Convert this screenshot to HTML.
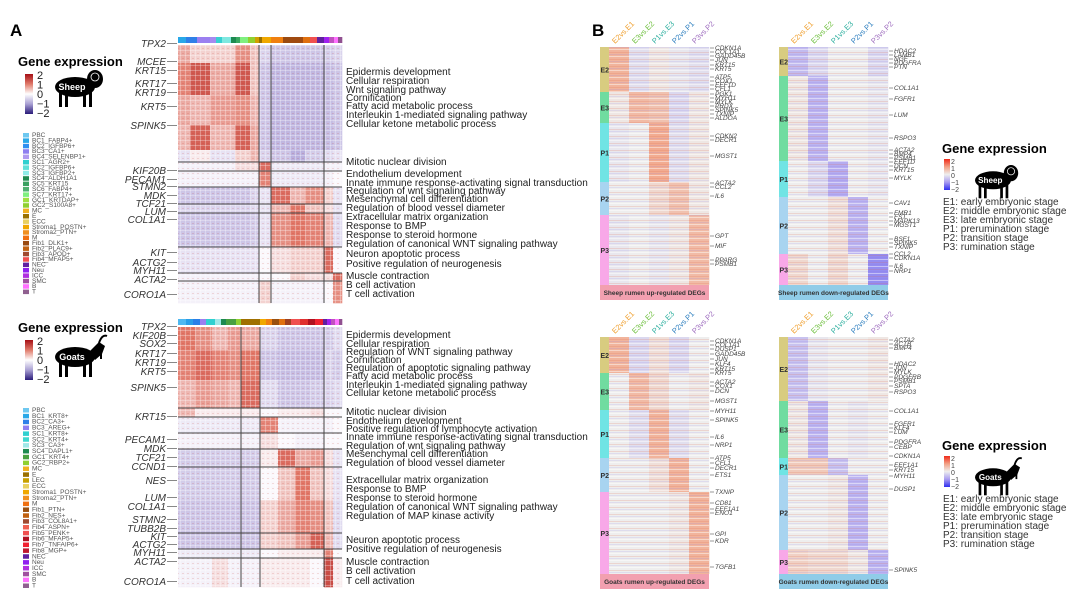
<!DOCTYPE html>
<html><head><meta charset="utf-8">
<style>
html,body{margin:0;padding:0;background:#fff;}
svg{display:block;font-family:"Liberation Sans",sans-serif;}
.gl{font-style:italic;font-size:10px;fill:#333;text-anchor:end;}
.term{font-size:10px;fill:#222;}
.leg{font-size:6.5px;fill:#555;}
.bg{font-style:italic;font-size:6.5px;fill:#444;}
</style></head>
<body>
<svg id="fig" width="1080" height="600" viewBox="0 0 1080 600">
<defs>
<linearGradient id="gA" x1="0" y1="0" x2="0" y2="1">
<stop offset="0" stop-color="#a50f15"/><stop offset="0.25" stop-color="#e07a6a"/><stop offset="0.5" stop-color="#ffffff"/><stop offset="0.75" stop-color="#a9a0d3"/><stop offset="1" stop-color="#2a1b7a"/></linearGradient>
<linearGradient id="gB" x1="0" y1="0" x2="0" y2="1">
<stop offset="0" stop-color="#f02a1a"/><stop offset="0.25" stop-color="#f2a084"/><stop offset="0.5" stop-color="#eeeeee"/><stop offset="0.75" stop-color="#a99cf0"/><stop offset="1" stop-color="#2f2ff0"/></linearGradient>
<pattern id="stripe" width="5" height="7" patternUnits="userSpaceOnUse"><rect y="0" width="5" height="1" fill="#fff" opacity="0.45"/><rect y="3" width="5" height="1" fill="#e06040" opacity="0.18"/><rect y="5" width="5" height="1" fill="#8070e0" opacity="0.15"/></pattern>
<pattern id="stripeA" width="5" height="5" patternUnits="userSpaceOnUse"><rect width="1" height="5" fill="#fff" opacity="0.3"/><rect width="5" height="1" fill="#fff" opacity="0.3"/><rect x="2" y="3" width="2" height="1" fill="#c03020" opacity="0.15"/></pattern>
</defs>
<text x="10" y="36" font-size="17" font-weight="bold">A</text>
<text x="592" y="36" font-size="17" font-weight="bold">B</text>
<g id="root"></g>
</svg>
<script>
// ===== Panel A data =====
const aColEdges = [178,190,210,235,250,259,271,290,305,324,333,342];
const aTopRowEdges = [45,63,95,125,150,162,171,187,204,213,247,273,281,303];
const aTopValues = [
 [0.6,0.3,0.3,0.8,0.4,-0.5,-0.7,-0.7,-0.7,-0.6,-0.5],
 [0.9,1.3,0.6,1.3,0.4,-0.7,-0.9,-0.9,-0.9,-0.8,-0.7],
 [0.6,0.5,0.7,0.8,0.5,-0.7,-0.9,-0.9,-0.9,-0.8,-0.7],
 [0.5,1.2,0.5,1.2,0.6,-0.7,-0.9,-0.9,-0.9,-0.8,-0.7],
 [-0.3,0.1,-0.3,0.3,0.5,-0.5,-0.7,-1.0,-0.6,-0.4,-0.3],
 [-0.1,-0.1,-0.1,0.2,0.2,1.1,-0.2,-0.2,-0.2,-0.1,-0.1],
 [-0.1,-0.1,-0.1,-0.1,-0.1,0.9,-0.2,-0.2,-0.2,-0.1,0.0],
 [-0.7,-0.7,-0.7,-0.7,-0.5,-0.3,1.1,0.5,0.8,0.3,-0.3],
 [-0.5,-0.5,-0.5,-0.5,-0.4,-0.3,0.5,1.0,0.4,0.2,-0.3],
 [-0.7,-0.7,-0.7,-0.7,-0.6,-0.3,0.8,1.0,0.9,0.5,-0.4],
 [-0.3,-0.3,-0.3,-0.3,-0.3,0.0,0.2,0.3,0.3,1.1,0.0],
 [-0.1,-0.1,-0.1,-0.1,-0.1,0.0,0.0,0.3,0.2,0.2,1.1],
 [-0.1,-0.1,-0.1,-0.1,-0.1,0.3,-0.1,-0.1,-0.1,0.0,0.8]];
const aTopLinesX = [259,271,324];
const aTopLinesY = [162,171,187,204,213,247,273,281];
const aBotColEdges = [178,195,212,228,241,260,278,295,310,324,333,342];
const aBotRowEdges = [327,350,380,408,417,433,449,467,500,533,549,558,587];
const aBotValues = [
 [1.0,0.8,0.5,0.7,0.6,-0.5,-0.7,-0.7,-0.7,-0.6,-0.4],
 [0.9,1.1,0.9,0.8,1.0,-0.7,-0.8,-0.8,-0.8,-0.5,-0.6],
 [0.5,0.7,0.6,0.5,1.1,-0.4,-0.7,-0.7,-0.6,-0.5,-0.4],
 [0.5,0.1,0.1,0.1,0.1,0.0,0.1,0.1,0.2,0.0,0.0],
 [-0.2,-0.2,-0.2,-0.2,-0.2,0.9,-0.1,-0.1,-0.1,-0.1,0.0],
 [-0.1,-0.1,-0.1,-0.1,-0.1,0.2,0.0,-0.1,-0.1,0.0,0.0],
 [-0.6,-0.6,-0.6,-0.6,-0.6,0.1,1.1,0.6,0.7,0.2,-0.3],
 [-0.6,-0.6,-0.6,-0.6,-0.6,0.0,0.4,1.0,0.4,0.2,-0.3],
 [-0.7,-0.7,-0.7,-0.7,-0.7,0.3,0.6,0.9,0.8,0.4,-0.4],
 [-0.7,-0.7,-0.7,-0.7,-0.7,0.3,0.4,0.7,1.2,0.5,-0.4],
 [-0.2,-0.2,-0.2,-0.2,-0.2,0.0,0.1,0.1,0.1,0.9,0.0],
 [-0.1,-0.1,0.2,-0.1,-0.1,0.1,0.1,0.1,0.0,1.4,0.1],
 [-0.1,-0.1,-0.1,-0.1,-0.1,0.3,-0.1,-0.1,-0.1,0.0,0.5]];
const aBotLinesX = [241,260,324];
const aBotLinesY = [408,417,433,449,467,533,549,558];
const aTopBarColors = ["#29a8e8","#2f80e8","#9b7ff0","#a58af0","#38d0d0","#7fe8e0","#1e8a50","#3aa860","#7ff07f","#90d030","#d0a000","#9a7000","#f0a800","#f08010","#9a4a10","#a04a10","#e07010","#f05050","#6020a0","#a020f0","#c050c0","#ff70ff","#905090"];
const aTopBarEdges = [178,186,197,210,216,222,231,236,240,248,255,259,262,271,283,290,303,310,317,324,329,334,338,342];
const aBotBarColors = ["#4fb8f0","#2a9ee8","#2a80e8","#9b7ff0","#30d0d0","#a0e8e8","#1e8a50","#48a040","#90d030","#a07000","#f0a800","#f08010","#9a5010","#e07010","#a04020","#f05050","#e03030","#b01020","#f02030","#6020a0","#a020f0","#c050c0","#ff70ff","#905090"];
const aBotBarEdges = [178,186,193,200,206,215,221,226,236,241,260,266,272,279,285,291,300,308,315,323,327,331,335,339,342];

const aTopGenes = ["TPX2","MCEE","KRT15","KRT17","KRT19","KRT5","SPINK5","KIF20B","PECAM1","STMN2","MDK","TCF21","LUM","COL1A1","KIT","ACTG2","MYH11","ACTA2","CORO1A"];
const aTopGeneY = [47,65,74,87,96,110,129,174,183,190,199,207,215,223,256,266,274,283,298];
const aBotGenes = ["TPX2","KIF20B","SOX2","KRT17","KRT19","KRT5","SPINK5","KRT15","PECAM1","MDK","TCF21","CCND1","NES","LUM","COL1A1","STMN2","TUBB2B","KIT","ACTG2","MYH11","ACTA2","CORO1A"];
const aBotGeneY = [330,339,347,357,366,375,391,420,443,452,461,470,484,501,510,523,532,540,548,556,565,585];
const aTopTerms = ["Epidermis development","Cellular respiration","Wnt signaling pathway","Cornification","Fatty acid metabolic process","Interleukin 1-mediated signaling pathway","Cellular ketone metabolic process","Mitotic nuclear division","Endothelium development","Innate immune response-activating signal transduction","Regulation of wnt signaling pathway","Mesenchymal cell differentiation","Regulation of blood vessel diameter","Extracellular matrix organization","Response to BMP","Response to steroid hormone","Regulation of canonical WNT signaling pathway","Neuron apoptotic process","Positive regulation of neurogenesis","Muscle contraction","B cell activation","T cell activation"];
const aTopTermY = [75,84,93,101,109,118,127,165,177,186,194,202,211,220,229,238,247,257,267,279,288,297];
const aBotTerms = ["Epidermis development","Cellular respiration","Regulation of WNT signaling pathway","Cornification","Regulation of apoptotic signaling pathway","Fatty acid metabolic process","Interleukin 1-mediated signaling pathway","Cellular ketone metabolic process","Mitotic nuclear division","Endothelium development","Positive regulation of lymphocyte activation","Innate immune response-activating signal transduction","Regulation of wnt signaling pathway","Mesenchymal cell differentiation","Regulation of blood vessel diameter","Extracellular matrix organization","Response to BMP","Response to steroid hormone","Regulation of canonical WNT signaling pathway","Regulation of MAP kinase activity","Neuron apoptotic process","Positive regulation of neurogenesis","Muscle contraction","B cell activation","T cell activation"];
const aBotTermY = [338,347,355,363,371,379,388,396,415,424,432,440,449,457,466,483,492,501,510,519,543,552,565,574,584];
const sheepCells = ["PBC","BC1_FABP4+","BC2_IGFBP6+","BC3_CA1+","BC4_SELENBP1+","SC1_AGR2+","SC2_IGFBP6+","SC3_IGFBP2+","SC4_ALDH1A1","SC5_KRT15","SC6_FABP4+","SC7_KRT17+","GC1_KRTDAP+","GC2_S100A8+","MC","E","ECC","Stroma1_POSTN+","Stroma2_PTN+","M","Fib1_DLK1+","Fib2_PLAC9+","Fib3_APOD+","Fib4_MFAP5+","NEC","Neu","ICC","SMC","B","T"];
const sheepCellColors = ["#6ec8f0","#29a8e8","#2f90f0","#8f7ff0","#b09af0","#30d0d0","#60e0d8","#90ece8","#1e8a50","#3aa060","#50b070","#7ff07f","#a0e040","#90d030","#f0b020","#9a7000","#e8d060","#f0a800","#f09020","#f07010","#9a4a10","#c06010","#a04a30","#f05050","#6020a0","#9020f0","#b030e0","#a050a0","#ff70ff","#906090"];
const goatCells = ["PBC","BC1_KRT8+","BC2_CA3+","BC3_AREG+","SC1_KRT8+","SC2_KRT4+","SC3_CA3+","SC4_DAPL1+","GC1_KRT4+","GC2_RBP2+","MC","E","LEC","ECC","Stroma1_POSTN+","Stroma2_PTN+","M","Fib1_PTN+","Fib2_NES+","Fib3_COL8A1+","Fib4_ASPN+","Fib5_PENK+","Fib6_MFAP5+","Fib7_TNFAIP6+","Fib8_MGP+","NEC","Neu","ICC","SMC","B","T"];
const goatCellColors = ["#6ec8f0","#29a8e8","#2f80e8","#8f7ff0","#30d0d0","#40d8d0","#a0e8e8","#1e8a50","#48a040","#90d030","#f0b020","#9a7000","#c8a000","#e8d060","#f0a800","#f09020","#f07010","#9a5010","#c06010","#a04a30","#f06050","#f05050","#b01020","#f02030","#c01830","#6020a0","#9020f0","#b030e0","#a050a0","#ff70ff","#906090"];

// ===== Panel B data =====
const bComparisons = ["E2vs.E1","E3vs.E2","P1vs.E3","P2vs.P1","P3vs.P2"];
const bCompColors = ["#f0a030","#70c040","#30b0a0","#3080c0","#a070c0"];
const bStages = ["E2","E3","P1","P2","P3"];
const bStageColors = ["#d8cc80","#70dca0","#70e4e4","#a8d4f0","#f8a8e8"];
const b1Edges = [47,92,123,182,215,285];
const b1Values = [[0.8,-0.2,0.1,-0.1,-0.2],[0.1,0.7,0.6,-0.3,0.1],[-0.1,0.0,0.9,-0.2,0.1],[0.0,0.0,0.3,0.6,0.1],[-0.1,0.0,-0.1,0.1,0.7]];
const b2Edges = [47,76,161,197,254,285];
const b2Values = [[-0.7,-0.3,0.0,0.0,-0.3],[0.1,-0.8,0.0,0.0,-0.1],[0.0,-0.3,-0.9,0.0,-0.1],[0.0,0.0,0.2,-0.8,0.0],[0.3,0.0,0.3,0.0,-1.2]];
const b3Edges = [337,373,410,458,492,574];
const b3Values = [[0.8,-0.3,0.2,-0.3,0.0],[0.0,0.7,0.3,0.0,0.1],[0.0,-0.2,0.8,-0.2,0.0],[0.0,0.0,0.2,0.8,0.0],[0.0,0.0,0.0,0.1,0.8]];
const b4Edges = [337,401,458,475,550,574];
const b4Values = [[-0.6,-0.1,0.0,0.0,0.1],[0.1,-0.8,0.0,-0.1,0.0],[0.5,0.5,-0.6,0.0,0.0],[0.0,0.0,0.1,-0.8,0.0],[0.4,0.3,0.3,0.1,-0.8]];
const b1Genes = ["CDKN1A","COL1A1","GADD45B","JUN","KRT15","KRT5","ATP5","COX1","EEF1D","CFL1","PGK1","MYH11","MYLK","PRDX","SPINK5","TXNIP","ALDOA","CDKN2","DECR1","MGST1","ACTA2","CCL2","IL6","GPT","MIF","PPARG","PSMB1"];
const b1GeneY = [50,54,58,62,67,71,79,83,87,91,96,100,104,108,112,116,120,138,142,158,185,189,198,238,248,262,266];
const b2Genes = ["HDAC2","LAMB1","NGF","PDGFRA","PTN","COL1A1","FGFR1","LUM","RSPO3","ACTA2","BMP4","PSMB1","EEF1D","DCN","KRT15","MYLK","CAV1","FMR1","FST","MAPK13","MGST1","BSF1","SPINK5","TXNIP","CCL2","CDKN1A","IL6","NRP1"];
const b2GeneY = [53,57,61,65,69,90,101,117,140,152,156,160,164,168,172,180,205,215,219,223,227,241,245,249,256,260,268,273];
const b3Genes = ["CDKN1A","COL1A1","DUSP1","GADD45B","JUN","KLF4","KRT15","KRT5","ACTA2","COX1","DCN","MGST1","MYH11","SPINK5","IL6","NRP1","ATP5","CFL1","DECR1","ETS1","TXNIP","CD81","EEF1A1","ENO1","GPI","KDR","TGFB1"];
const b3GeneY = [343,347,351,356,361,366,371,375,384,388,393,403,413,422,439,447,460,465,470,477,494,505,511,515,536,543,569];
const b4Genes = ["ACTA2","ACTB","BMP4","HDAC2","JUN","MYLK","PDGFRB","PSMB1","SPTA","RSPO3","COL1A1","FGFR1","KLF4","LUM","PDGFRA","CEBP","CDKN1A","EEF1A1","KRT15","MYH11","DUSP1","SPINK5"];
const b4GeneY = [342,346,350,366,370,374,379,383,388,394,413,426,430,434,444,449,458,467,472,478,491,572];
const stageText = ["E1: early embryonic stage","E2: middle embryonic stage","E3: late embryonic stage","P1: prerumination stage","P2: transition stage","P3: rumination stage"];

const NS="http://www.w3.org/2000/svg";
const root=document.getElementById('root');
function el(tag,attrs,parent,txt){const e=document.createElementNS(NS,tag);for(const k in attrs)e.setAttribute(k,attrs[k]);if(txt!==undefined)e.textContent=txt;(parent||root).appendChild(e);return e;}
function lerp(a,b,t){return a.map((v,i)=>Math.round(v+(b[i]-v)*t));}
function scaleColor(v,stops){v=Math.max(-2,Math.min(2,v));const p=(v+2)/4*(stops.length-1);const i=Math.min(stops.length-2,Math.floor(p));const c=lerp(stops[i],stops[i+1],p-i);return `rgb(${c[0]},${c[1]},${c[2]})`;}
const stopsA=[[42,27,122],[185,176,222],[250,248,252],[225,120,105],[165,15,21]];
const stopsB=[[47,47,240],[175,165,240],[238,238,238],[242,165,135],[240,42,26]];

function heatA(name,colEdges,rowEdges,vals,linesX,linesY,barEdges,barColors){
  const g=el('g',{});
  
  
  const top=rowEdges[0],bot=rowEdges[rowEdges.length-1];
  for(let r=0;r<vals.length;r++)for(let c=0;c<vals[r].length;c++){
    const rc=el('rect',{x:colEdges[c],y:rowEdges[r],width:colEdges[c+1]-colEdges[c]+0.3,height:rowEdges[r+1]-rowEdges[r]+0.3,fill:scaleColor(vals[r][c],stopsA)},g);
    
    
  }
  el('rect',{x:colEdges[0],y:top,width:colEdges[colEdges.length-1]-colEdges[0],height:bot-top,fill:'url(#stripeA)'},g);
  for(let i=0;i<barColors.length;i++){
    const b=el('rect',{x:barEdges[i],y:top-8,width:barEdges[i+1]-barEdges[i]+0.3,height:6,fill:barColors[i]},g);
    
    
  }
  linesX.forEach(x=>el('line',{x1:x,x2:x,y1:top,y2:bot,stroke:'#444','stroke-width':1},g));
  linesY.forEach(y=>el('line',{x1:colEdges[0],x2:colEdges[colEdges.length-1],y1:y,y2:y,stroke:'#444','stroke-width':1},g));
}
function labelsA(genes,gy,terms,ty){
  genes.forEach((t,i)=>{const e=el('text',{x:166,y:gy[i],class:'gl'},root,t);
    
    
    el('line',{x1:167,x2:177,y1:gy[i]-3.5,y2:gy[i]-3.5,stroke:'#555','stroke-width':0.7});});
  terms.forEach((t,i)=>{const e=el('text',{x:346,y:ty[i],class:'term'},root,t);
    
    });
}
function animal(x,y,goat,lbl,sc){
  const g=el('g',{transform:`translate(${x},${y}) scale(${sc})`});
  
  
  el('ellipse',{cx:20,cy:17,rx:20,ry:10,fill:'#000'},g);
  el('rect',{x:4,y:20,width:3,height:17,fill:'#000'},g);
  el('rect',{x:10,y:20,width:3,height:17,fill:'#000'},g);
  el('rect',{x:28,y:20,width:3,height:17,fill:'#000'},g);
  el('rect',{x:34,y:20,width:3,height:17,fill:'#000'},g);
  if(goat){el('path',{d:'M34 12 L44 2 L50 6 L47 14 L40 20 Z',fill:'#000'},g);el('path',{d:'M44 3 Q47 -6 52 -4',stroke:'#000','stroke-width':2,fill:'none'},g);el('path',{d:'M46 13 L46 19',stroke:'#000','stroke-width':2},g);}
  else{el('ellipse',{cx:40,cy:9,rx:8,ry:9,fill:'#000'},g);el('circle',{cx:40,cy:7,r:4,fill:'none',stroke:'#fff','stroke-width':0.8},g);}
  el('text',{x:17,y:20,fill:'#fff','font-size':9,'font-weight':'bold','text-anchor':'middle'},g,lbl);
}
function legendA(y0,title,bx,by,goat,lbl,cells,colors,ly0,step){
  el('text',{x:18,y:y0,'font-size':13,'font-weight':'bold'},root,title);
  const cb=el('rect',{x:25,y:y0+8,width:8,height:40,fill:'url(#gA)'});
  
  
  ['2','1','0','\u22121','\u22122'].forEach((t,i)=>el('text',{x:37,y:y0+13+i*9.5,'font-size':11,fill:'#222'},root,t));
  animal(bx,by,goat,lbl,1);
  cells.forEach((c,i)=>{const r=el('rect',{x:23,y:ly0+i*step-4,width:6,height:4.5,fill:colors[i]});
    
    
    const t=el('text',{x:32,y:ly0+i*step,class:'leg'},root,c);
    
    });
}
function heatB(name,x0,edges,vals,genes,gy,title,titleColor){
  const cw=20,sb=9,top=edges[0],bot=edges[edges.length-1];
  const g=el('g',{});
  
  
  for(let s=0;s<bStages.length;s++){
    el('rect',{x:x0,y:edges[s],width:sb,height:edges[s+1]-edges[s],fill:bStageColors[s]},g);
    el('text',{x:x0+0.5,y:(edges[s]+edges[s+1])/2+3,'font-size':7,'font-weight':'bold',fill:'#333'},g,bStages[s]);
    for(let c=0;c<5;c++){
      const r=el('rect',{x:x0+sb+c*cw,y:edges[s],width:cw+0.3,height:edges[s+1]-edges[s],fill:scaleColor(vals[s][c],stopsB)},g);
      
      
    }
  }
  el('rect',{x:x0+sb,y:top,width:5*cw,height:bot-top,fill:'url(#stripe)'},g);
  bComparisons.forEach((c,i)=>{const t=el('text',{x:0,y:0,'font-size':7.5,fill:bCompColors[i],transform:`translate(${x0+sb+i*cw+6},${top-3}) rotate(-45)`},g,c);
    
    });
  const tb=el('rect',{x:x0,y:bot,width:sb+5*cw,height:15,fill:titleColor},g);
  
  
  el('text',{x:x0+sb/2+2.5*cw,y:bot+10,'font-size':6.5,'font-weight':'bold',fill:'#333','text-anchor':'middle'},g,title);
  const gx=x0+sb+5*cw;
  genes.forEach((t,i)=>{el('line',{x1:gx+1,x2:gx+5,y1:gy[i]-2,y2:gy[i]-2,stroke:'#555','stroke-width':0.6},g);
    const e=el('text',{x:gx+6,y:gy[i],class:'bg'},g,t);
    
    });
}
function legendB(y0,goat,lbl){
  el('text',{x:942,y:y0,'font-size':13,'font-weight':'bold'},root,'Gene expression');
  const cb=el('rect',{x:944,y:y0+6,width:6,height:31,fill:'url(#gB)'});
  
  
  ['2','1','0','\u22121','\u22122'].forEach((t,i)=>el('text',{x:951,y:y0+11+i*7,'font-size':7,fill:'#444'},root,t));
  animal(975,y0+12,goat,lbl,0.9);
  stageText.forEach((t,i)=>{const e=el('text',{x:943,y:y0+52+i*9,'font-size':10,fill:'#333'},root,t);
    
    });
}

legendA(66,'Gene expression',55,70,false,'Sheep',sheepCells,sheepCellColors,137,5.4);
legendA(332,'Gene expression',55,340,true,'Goats',goatCells,goatCellColors,412,5.85);
heatA('sheep-celltype-heatmap',aColEdges,aTopRowEdges,aTopValues,aTopLinesX,aTopLinesY,aTopBarEdges,aTopBarColors);
heatA('goat-celltype-heatmap',aBotColEdges,aBotRowEdges,aBotValues,aBotLinesX,aBotLinesY,aBotBarEdges,aBotBarColors);
labelsA(aTopGenes,aTopGeneY,aTopTerms,aTopTermY);
labelsA(aBotGenes,aBotGeneY,aBotTerms,aBotTermY);
heatB('sheep-up-heatmap',600,b1Edges,b1Values,b1Genes,b1GeneY,'Sheep rumen up-regulated DEGs','#f2a0b0');
heatB('sheep-down-heatmap',779,b2Edges,b2Values,b2Genes,b2GeneY,'Sheep rumen down-regulated DEGs','#90cce8');
heatB('goat-up-heatmap',600,b3Edges,b3Values,b3Genes,b3GeneY,'Goats rumen up-regulated DEGs','#f2a0b0');
heatB('goat-down-heatmap',779,b4Edges,b4Values,b4Genes,b4GeneY,'Goats rumen down-regulated DEGs','#90cce8');
legendB(153,false,'Sheep');
legendB(450,true,'Goats');
</script>
</body></html>
